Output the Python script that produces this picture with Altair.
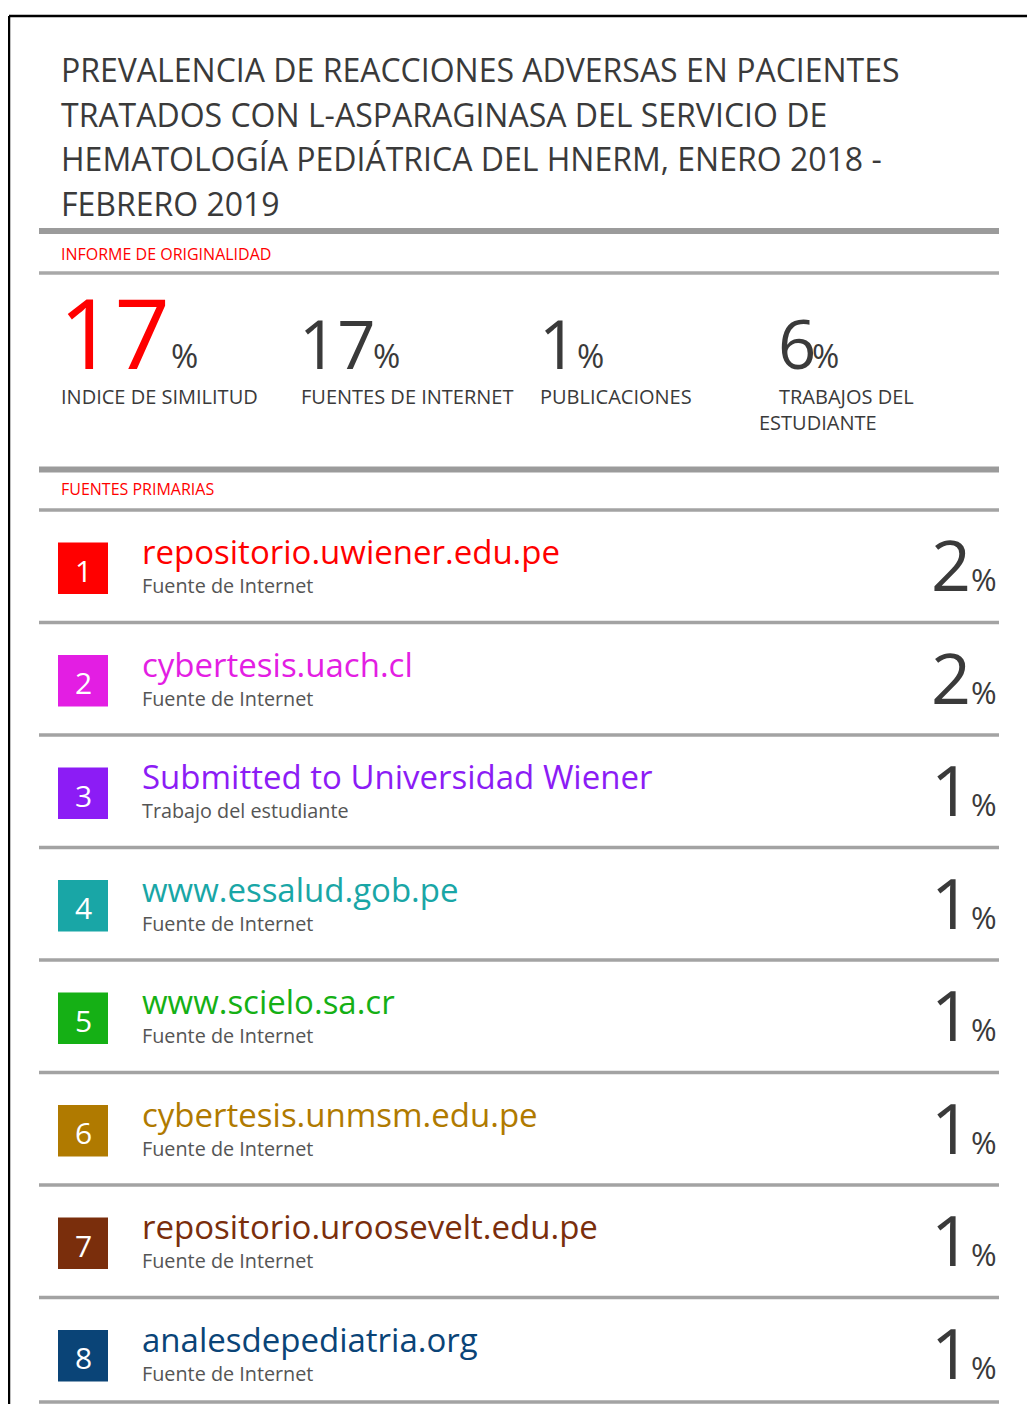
import altair as alt
import pandas as pd

# ---------------- data ----------------
title_lines = [
    "PREVALENCIA DE REACCIONES ADVERSAS EN PACIENTES",
    "TRATADOS CON L-ASPARAGINASA DEL SERVICIO DE",
    "HEMATOLOGÍA PEDIÁTRICA DEL HNERM, ENERO 2018 -",
    "FEBRERO 2019",
]
section_headers = ["INFORME DE ORIGINALIDAD", "FUENTES PRIMARIAS"]

stat_values = ["17", "17", "1", "6"]
stat_label_lines = [
    ["INDICE DE SIMILITUD"],
    ["FUENTES DE INTERNET"],
    ["PUBLICACIONES"],
    ["TRABAJOS DEL", "ESTUDIANTE"],
]

source_ranks = [1, 2, 3, 4, 5, 6, 7, 8]
source_names = [
    "repositorio.uwiener.edu.pe",
    "cybertesis.uach.cl",
    "Submitted to Universidad Wiener",
    "www.essalud.gob.pe",
    "www.scielo.sa.cr",
    "cybertesis.unmsm.edu.pe",
    "repositorio.uroosevelt.edu.pe",
    "analesdepediatria.org",
]
source_types = [
    "Fuente de Internet",
    "Fuente de Internet",
    "Trabajo del estudiante",
    "Fuente de Internet",
    "Fuente de Internet",
    "Fuente de Internet",
    "Fuente de Internet",
    "Fuente de Internet",
]
source_pcts = [2, 2, 1, 1, 1, 1, 1, 1]
source_colors = ["#ff0000", "#e31ee3", "#8c1cf5", "#19a6a6",
                 "#15b015", "#b07a00", "#7a2e0c", "#0a4477"]

# ---------------- layout (page pixel space) ----------------
W, H = 1019, 1396
FONT = "Open Sans"
DARK = "#3a3a3a"
RED = "#ff0000"
GREY_RULE = "#9b9b9b"

texts = []      # left aligned texts
texts_r = []    # right aligned texts
texts_c = []    # centred texts
rules = []

# outer frame (top + left edge)
rules.append(dict(x=9, x2=1040, y=16, y2=16, w=2.5, c="#000000"))
rules.append(dict(x=9, x2=9, y=16, y2=1420, w=2.5, c="#000000"))

# title
for i, line in enumerate(title_lines):
    texts.append(dict(x=61, y=82 + 44.5 * i, t=line, s=32, c=DARK))

# section rules + headers
rules.append(dict(x=39, x2=999, y=231, y2=231, w=6, c=GREY_RULE))
texts.append(dict(x=61, y=260, t=section_headers[0], s=16, c=RED))
rules.append(dict(x=39, x2=999, y=273, y2=273, w=3.5, c="#a8a8a8"))

# stats
num_x = [59, 299, 539, 778]
num_size = [97, 67, 67, 67]
pct_x = [171, 373, 577, 812]
label_x = [[61], [301], [540], [779, 759]]
for i, v in enumerate(stat_values):
    col = RED if i == 0 else DARK
    texts.append(dict(x=num_x[i], y=368.5, t=v, s=num_size[i], c=col))
    texts.append(dict(x=pct_x[i], y=368, t="%", s=33, c=DARK))
    for j, ln in enumerate(stat_label_lines[i]):
        texts.append(dict(x=label_x[i][j], y=404 + 26 * j, t=ln, s=20, c=DARK))

rules.append(dict(x=39, x2=999, y=469.5, y2=469.5, w=6, c=GREY_RULE))
texts.append(dict(x=61, y=495, t=section_headers[1], s=16, c=RED))

# sources
ROW0, STEP = 510, 112.5
squares = []
for i, r in enumerate(source_ranks):
    top = ROW0 + STEP * i
    rules.append(dict(x=39, x2=999, y=top, y2=top, w=3.5, c="#a3a3a3"))
    squares.append(dict(x=58, x2=108, y=top + 32.5, y2=top + 84, rank=r))
    texts_c.append(dict(x=83.5, y=top + 71.5, t=str(r), s=30, c="#ffffff"))
    texts.append(dict(x=142, y=top + 54, t=source_names[i], s=33, c=source_colors[i]))
    texts.append(dict(x=142, y=top + 83, t=source_types[i], s=19.8, c="#555555"))
    texts_r.append(dict(x=971, y=top + 81, t=str(source_pcts[i]), s=70, c=DARK))
    texts.append(dict(x=971, y=top + 81, t="%", s=31, c=DARK))
last = ROW0 + STEP * len(source_ranks)
rules.append(dict(x=39, x2=999, y=min(last, 8 + H - 2), y2=min(last, 8 + H - 2), w=3.5, c="#a3a3a3"))

# ---------------- chart ----------------
xq = lambda f: alt.X(f, type="quantitative", axis=None,
                     scale=alt.Scale(domain=[8, 8 + W], nice=False, zero=False))
yq = lambda f: alt.Y(f, type="quantitative", axis=None,
                     scale=alt.Scale(domain=[8, 8 + H], nice=False, zero=False, reverse=True))

rule_layer = alt.Chart(pd.DataFrame(rules)).mark_rule().encode(
    x=xq("x"), x2="x2", y=yq("y"), y2="y2",
    size=alt.Size("w:Q", scale=None),
    color=alt.Color("c:N", scale=None),
)

square_layer = alt.Chart(pd.DataFrame(squares)).mark_rect().encode(
    x=xq("x"), x2="x2", y=yq("y"), y2="y2",
    color=alt.Color("rank:N", scale=alt.Scale(domain=source_ranks, range=source_colors), legend=None),
)

def text_layer(rows, align):
    return alt.Chart(pd.DataFrame(rows)).mark_text(
        align=align, baseline="alphabetic", font=FONT
    ).encode(
        x=xq("x"), y=yq("y"), text="t:N",
        size=alt.Size("s:Q", scale=None),
        color=alt.Color("c:N", scale=None),
    )

chart = alt.layer(
    rule_layer,
    square_layer,
    text_layer(texts, "left"),
    text_layer(texts_r, "right"),
    text_layer(texts_c, "center"),
).properties(
    width=W, height=H, padding=0, autosize=alt.AutoSizeParams(type="none"),
    background="#ffffff",
).configure_view(stroke=None)

chart.save("out.html", embed_options={"renderer": "svg", "actions": False})
